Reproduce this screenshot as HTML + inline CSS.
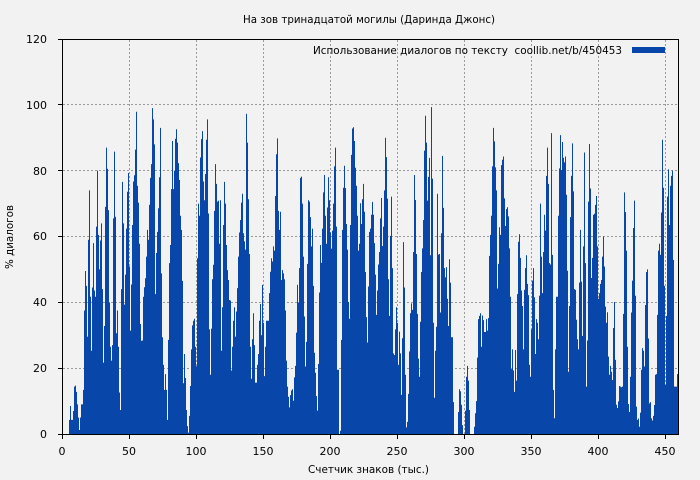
<!DOCTYPE html>
<html><head><meta charset="utf-8"><style>
html,body{margin:0;padding:0;background:#f2f2f2;}
svg{display:block;}
text{font-family:"DejaVu Sans","Liberation Sans",sans-serif;font-size:11px;fill:#000;}
</style></head><body>
<svg width="700" height="480" viewBox="0 0 700 480" xmlns="http://www.w3.org/2000/svg">
<rect x="0" y="0" width="700" height="480" fill="#f2f2f2"/>
<g stroke="#9a9a9a" stroke-width="1" stroke-dasharray="2,2" fill="none">
<line x1="129.5" y1="40" x2="129.5" y2="434"/>
<line x1="196.5" y1="40" x2="196.5" y2="434"/>
<line x1="263.5" y1="40" x2="263.5" y2="434"/>
<line x1="330.5" y1="40" x2="330.5" y2="434"/>
<line x1="397.5" y1="40" x2="397.5" y2="434"/>
<line x1="464.5" y1="40" x2="464.5" y2="434"/>
<line x1="531.5" y1="40" x2="531.5" y2="434"/>
<line x1="598.5" y1="40" x2="598.5" y2="434"/>
<line x1="665.5" y1="40" x2="665.5" y2="434"/>
<line x1="63" y1="368.5" x2="678" y2="368.5"/>
<line x1="63" y1="302.5" x2="678" y2="302.5"/>
<line x1="63" y1="236.5" x2="678" y2="236.5"/>
<line x1="63" y1="170.5" x2="678" y2="170.5"/>
<line x1="63" y1="104.5" x2="678" y2="104.5"/>
</g>
<path fill="#0846aa" transform="translate(0,434) scale(1,-3.2917)" d="M69,0V4.3h1V8.5h1V4.3h2V7h1V14.4h1V14.7h1V12.8h1V9h1V5h1V1.2h1V5h1V9h2V13.4h1
V37.5h1V49.5h1V45h1V29.6h1V59h1V74h1V41.7h1V25.3h1V44.5h1V58h1V43.6h1V41.7h1V63h1V80h1V60.5h1V50h1
V58.8h1V64h1V44h1V21.7h1V32.8h1V69h1V87h1V80.6h1V68h1V40h1V26.5h1V22.3h1V27h1V65.5h1V85.8h1V66h1V30.6h1V37.5h1V26.5h1V12.6h1
V7.3h1V44h1V76.6h1V64h1V39.3h1V48.4h1V62.4h1V73.6h1V79.3h1V50.9h1V31.4h1V45.4h1V63.5h1V76.7h1V78.6h1V86.4h1V97.9h1V75.4h1V70.3h1V57.8h1
V33.4h1V28.3h1V28.4h1V41.7h1V44.6h1V47.3h1V53.9h1V62h1V59h1V69.6h1V77.8h1V82h1V99h1V95.6h1V88h1V42.5h1V55h1V61.4h1V68.6h1V78h1
V93h1V48.8h1V29.4h1V21h1V13.4h1V18.2h1V13.4h1V4.3h1V28.6h1V51.9h1V57.4h1V74.4h1V89h1V74.4h1V80h1V89.7h1V92.6h1V88.5h1V82.3h1V77.2h1
V66.3h1V62h1V46.5h1V15.4h1V24.3h1V17h1V7.3h1V2.4h1V0.4h1V5.5h1V14.6h1V25.7h1V33h1V34.4h1V35h1V26.5h1V20.6h1V53.4h1V70h1V66.3h1
V84h1V89.6h1V92h1V76.7h1V71h1V79h1V89.4h1V95.6h1V67h1V31.8h1V18h1V32h1V47h1V51.4h1V67.8h1V82h1V76h1V70.6h1V70.9h1V57.8h1
V71h1V25.3h1V38.5h1V63.5h1V76.6h1V70h1V57.4h1V49.8h1V46.8h1V40.7h1V40.5h1V19.3h1V26.5h1V34.4h1V38.5h1V29.6h1V37.2h1V44.3h1V53.9h1V61.2h1
V65h1V70.3h1V73h1V61h1V58.5h1V56h1V97.3h1V88.5h1V71.3h1V54.7h1V26.5h1V16.8h1V28.8h1V36.7h1V27h1V15.6h2V21h1V24.3h1V34.4h1
V39.5h1V30h1V45.3h1V33.8h1V17.6h1V26.5h1V34.4h3V42.8h1V49.3h1V53.4h1V52.4h1V57h1V55.7h1V72.3h1V85h1V89.8h1V67.8h1V62h1
V67.5h1V46.8h1V49.8h1V48.8h1V47h1V37.5h1V22.3h1V14.4h1V11.3h1V8.1h1V11.8h1V13.2h1V13.6h1V10.1h1V17.2h1V20.7h1V30.8h1V45.3h1V40h1V50.4h1
V77.8h1V78.2h1V70h1V53.9h1V35.7h1V20.5h1V28h1V51.7h1V71h1V70.6h1V65.9h1V57h1V62.4h1V45h1V24.7h1V18.6h1V11.5h1V7.1h1V21.3h1V43h1
V57.4h1V52h1V62.4h1V73.4h1V78.7h1V66.3h1V57.8h1V68.8h1V78h1V71h1V61.2h1V56.3h1V61.8h1V70h1V81.3h1V87h1V63h1V19.5h2V0h1
V1h1V28.6h1V62h1V74.8h1V81.5h1V74.7h1V63.8h1V56h1V40.1h1V35h1V63.5h1V84.8h1V92.8h1V93.2h1V89h1V80.9h1V75.4h1V66.3h1V55.7h1V57.8h1
V70.1h1V63.8h1V71.3h1V76h1V67.5h1V49.2h1V35.5h1V27.8h1V44.8h1V61.4h1V62.4h1V66.6h1V70.5h1V66.6h1V58h1V48.4h1V36.2h1V43.6h1V51.5h1V55.3h1
V65.5h1V71.7h1V57.1h1V63h1V74h1V90h1V84.1h1V71.5h1V47h1V35.9h1V60.2h1V72.1h1V50.4h1V24.5h1V24h1V31.8h1V38.5h1V33.8h1V21h1V31.1h1
V24.5h1V11.9h1V29.1h1V58.3h1V44.5h1V18h1V2h1V3.7h1V12.2h1V25.1h1V36.7h1V39.7h1V37.7h1V55.3h1V78.7h1V71.1h1V54.7h1V36.5h1V22.9h1V17.4h1
V34.1h1V49.2h1V56.4h1V65h1V86.1h1V96.7h1V88.5h1V70.9h1V78.1h1V83.9h1V54.3h1V99.3h1V77.6h1V33.8h1V11h1V25.3h1V32.6h1V73h1V54.5h1V54.7h1
V36.9h1V61h1V84.5h1V68.7h1V50.4h1V47.6h1V50.7h1V41.1h1V32.8h1V53.1h1V46h1V29.4h2V9.7h1V0h4V6.7h1V13.6h1
V13h1V8.9h1V2.7h1V0h2V7.1h1V17.4h1V20.7h1V16.2h1V7.3h1V0h4V2.2h1V6.3h1V10h1V23.2h1V34.9h1V35.9h1
V36.7h1V26.5h1V36h1V34.6h1V31h2V34.9h1V31.4h1V35.2h1V54.1h1V60.5h1V66.3h1V81.3h1V93h1V88.9h1V81h1V74h1V44.2h1V51.7h1V62.8h1
V60.5h1V81.7h1V83.3h1V84.3h1V71.6h1V63.2h1V68.3h1V68.9h1V66.1h1V56.4h1V41.7h1V19.7h1V25.7h1V19.3h1V12.8h1V25.5h1V16.2h1V42.5h1V58.4h1V60.7h1
V53.5h1V43.6h1V38.9h1V25.7h1V43.8h1V50.4h1V54.3h1V45.6h1V42.2h1V21h1V17.4h1V31.8h1V46.6h1V50.4h1V41.5h1V24.3h1V34.9h1V33.8h1V28.8h1V42h1
V70h1V53.9h1V42.8h1V55.3h1V66.6h1V61.8h1V78.4h1V87h1V76h1V51.9h1V51.5h1V91.4h1V54.4h1V13.4h1V4.8h1V25.7h1V41.7h2V66.3h1V80.7h1
V90.8h1V80.2h1V88.7h1V83.9h1V82.5h1V84.3h1V72.7h1V49.6h1V18.9h1V38.9h1V65.9h1V78.4h1V88.3h1V73.7h1V44h1V43.8h1V34.7h1V28.8h1V25.7h1V46h1
V62h1V46.3h1V29.8h1V57h1V85.5h1V51.9h1V14.4h1V28.4h1V70.6h1V88.1h1V74.6h1V47.4h1V53.5h1V66.6h1V66.9h1V69.6h1V72.3h1V57h1V41.1h1V42.8h1
V45.6h1V46.8h1V53.9h1V60h1V50.9h1V38.7h1V33.8h1V37h1V23.5h1V18h1V20.7h1V18.9h1V16.4h1V32.2h1V40.1h1V22.5h1V8.9h1V7.9h1V9.9h1V14.6h1
V14.4h1V14.2h1V14.4h1V36.5h1V73.4h1V67.4h1V55.7h1V26.5h1V9.1h1V6.7h1V17.4h1V36.9h1V46.6h1V62.6h1V70.9h1V42h1V8.3h1V4.3h1V4.7h1V2.2h1
V6.5h1V19.5h1V26.1h1V25.3h1V20.5h1V39.2h1V49.2h1V50h1V29h1V9.3h1V9.7h1V4.8h1V4.1h1V5.5h1V8.8h1V18h1V18.2h1V36.2h1V55.7h1V57.8h1
V54.4h1V67.3h1V89.4h1V74.8h1V45h1V14.9h1V35.9h1V72.1h1V80.4h1V63.5h1V75.4h1V78.4h1V80h1V52.9h1V14.4h3V18.2h1V0Z"/>
<rect x="62.5" y="39.5" width="616" height="395" fill="none" stroke="#000" stroke-width="1"/>
<g stroke="#000" stroke-width="1">
<line x1="58" y1="434.5" x2="62" y2="434.5"/>
<line x1="58" y1="368.5" x2="62" y2="368.5"/>
<line x1="58" y1="302.5" x2="62" y2="302.5"/>
<line x1="58" y1="236.5" x2="62" y2="236.5"/>
<line x1="58" y1="170.5" x2="62" y2="170.5"/>
<line x1="58" y1="104.5" x2="62" y2="104.5"/>
<line x1="58" y1="39.5" x2="62" y2="39.5"/>
<line x1="62.5" y1="435" x2="62.5" y2="439"/>
<line x1="129.5" y1="435" x2="129.5" y2="439"/>
<line x1="196.5" y1="435" x2="196.5" y2="439"/>
<line x1="263.5" y1="435" x2="263.5" y2="439"/>
<line x1="330.5" y1="435" x2="330.5" y2="439"/>
<line x1="397.5" y1="435" x2="397.5" y2="439"/>
<line x1="464.5" y1="435" x2="464.5" y2="439"/>
<line x1="531.5" y1="435" x2="531.5" y2="439"/>
<line x1="598.5" y1="435" x2="598.5" y2="439"/>
<line x1="665.5" y1="435" x2="665.5" y2="439"/>
</g>
<g text-anchor="end">
<text x="47" y="438">0</text>
<text x="47" y="372">20</text>
<text x="47" y="306">40</text>
<text x="47" y="240">60</text>
<text x="47" y="175">80</text>
<text x="47" y="109">100</text>
<text x="47" y="43">120</text>
</g>
<g text-anchor="middle">
<text x="62" y="455">0</text>
<text x="129" y="455">50</text>
<text x="196" y="455">100</text>
<text x="263" y="455">150</text>
<text x="330" y="455">200</text>
<text x="397" y="455">250</text>
<text x="464" y="455">300</text>
<text x="531" y="455">350</text>
<text x="598" y="455">400</text>
<text x="665" y="455">450</text>
</g>
<text x="243" y="23" textLength="252" lengthAdjust="spacingAndGlyphs">На зов тринадцатой могилы (Даринда Джонс)</text>
<text x="308" y="473" textLength="121" lengthAdjust="spacingAndGlyphs">Счетчик знаков (тыс.)</text>
<text transform="translate(13,237) rotate(-90)" text-anchor="middle" textLength="64" lengthAdjust="spacingAndGlyphs">% диалогов</text>
<text x="313" y="54" textLength="309" lengthAdjust="spacingAndGlyphs">Использование диалогов по тексту&#160; coollib.net/b/450453</text>
<rect x="632" y="47" width="33" height="6" fill="#0846aa"/>
</svg>
</body></html>
